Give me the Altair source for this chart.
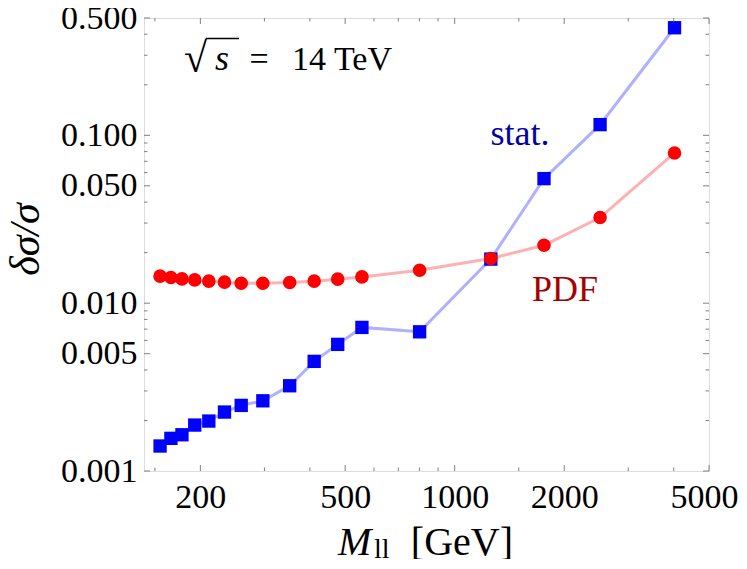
import altair as alt
import pandas as pd

# ---------------- data ----------------
mass = [155, 166, 178, 193, 211, 233, 259, 297, 352, 411, 477, 556, 801, 1257, 1760, 2510, 4020]
pdf_err = [0.01448, 0.01422, 0.01395, 0.01376, 0.01352, 0.01334, 0.01315, 0.01315, 0.01328,
           0.01352, 0.0139, 0.01434, 0.01571, 0.01845, 0.02214, 0.03237, 0.0785]
stat_err = [0.001409, 0.001565, 0.001644, 0.001878, 0.001984, 0.002245, 0.00246, 0.00262,
            0.00322, 0.0045, 0.00568, 0.00717, 0.00675, 0.0183, 0.0552, 0.1158, 0.4375]

x_major = [200, 500, 1000, 2000, 5000]
x_minor = [150, 300, 400, 600, 700, 800, 900, 1500, 3000, 4000]
y_major = [0.001, 0.005, 0.01, 0.05, 0.1, 0.5]
y_minor = [0.002, 0.003, 0.004, 0.006, 0.007, 0.008, 0.009, 0.02, 0.03, 0.04,
           0.06, 0.07, 0.08, 0.09, 0.2, 0.3, 0.4]

label_stat = "stat."
label_pdf = "PDF"
label_energy = "14 TeV"
y_title = "δσ/σ"

# ---------------- style ----------------
FONT = "Liberation Serif"
FRAME = "#808080"
W, H = 565, 453

xscale = alt.Scale(type="log", domain=[140, 5000], nice=False)
yscale = alt.Scale(type="log", domain=[0.001, 0.5], nice=False)

df = pd.DataFrame({"M": mass, "pdf": pdf_err, "stat": stat_err})

x_axis = alt.Axis(values=x_major, format="d", labelFont=FONT, labelFontSize=34,
                  labelColor="black", ticks=False, domain=False, grid=False,
                  labelPadding=9, title="", labelOverlap=False, labelFlush=False,
                  labelBound=False,
                  labelOffset={"condition": {"test": "datum.value == 5000", "value": -5},
                               "value": 0})
y_axis = alt.Axis(values=y_major, format=".3f", labelFont=FONT, labelFontSize=34,
                  labelColor="black", ticks=False, domain=False, grid=False,
                  labelPadding=7, title=y_title, titleFont=FONT, titleFontSize=42,
                  titleFontStyle="italic", titleFontWeight="normal", titleColor="black",
                  titleAngle=-90, titleX=-119, titleY=221, titleAlign="center",
                  titleBaseline="middle", labelOverlap=False, labelFlush=False,
                  labelBound=False)


def X(field):
    return alt.X(field, scale=xscale, axis=x_axis)


def Y(field):
    return alt.Y(field, scale=yscale, axis=y_axis)


base = alt.Chart(df)

stat_line = base.mark_line(color="#b0b0ff", strokeWidth=3).encode(x=X("M:Q"), y=Y("stat:Q"))
stat_pts = base.mark_square(color="#0000ff", size=178, opacity=1).encode(x=X("M:Q"), y=Y("stat:Q"))
pdf_line = base.mark_line(color="#ffb0b0", strokeWidth=3).encode(x=X("M:Q"), y=Y("pdf:Q"))
pdf_pts = base.mark_circle(color="#ff0000", size=185, opacity=1).encode(x=X("M:Q"), y=Y("pdf:Q"))


# inward ticks on all four sides
def xticks(vals, length):
    d = alt.Chart(pd.DataFrame({"v": vals}))
    bottom = d.mark_rule(color=FRAME, strokeWidth=1).encode(
        x=X("v:Q"), y=alt.value(H), y2=alt.value(H - length))
    top = d.mark_rule(color=FRAME, strokeWidth=1).encode(
        x=X("v:Q"), y=alt.value(0), y2=alt.value(length))
    return [bottom, top]


def yticks(vals, length):
    d = alt.Chart(pd.DataFrame({"v": vals}))
    left = d.mark_rule(color=FRAME, strokeWidth=1).encode(
        y=Y("v:Q"), x=alt.value(0), x2=alt.value(length))
    right = d.mark_rule(color=FRAME, strokeWidth=1).encode(
        y=Y("v:Q"), x=alt.value(W), x2=alt.value(W - length))
    return [left, right]


ticks = xticks(x_major, 6) + xticks(x_minor, 3.5) + yticks(y_major, 6) + yticks(y_minor, 3.5)


def txt(s, x, y, size, color="black", style="normal", align="left"):
    return alt.Chart(pd.DataFrame({"t": [s]})).mark_text(
        font=FONT, fontSize=size, color=color, fontStyle=style, align=align,
        baseline="alphabetic").encode(x=alt.value(x), y=alt.value(y), text="t:N")


annots = [
    txt(label_stat, 376, 127, 36, color="#0000a8", align="center"),
    txt(label_pdf, 421, 283, 36, color="#a80000", align="center"),
    txt("√", 40, 54, 42),
    txt("s", 71, 52, 36, style="italic"),
    txt("=", 115, 52, 34, align="center"),
    txt(label_energy, 248, 52, 34, align="right"),
    txt("M", 194, 537, 40, style="italic"),
    txt("ll", 230, 540, 28),
    txt("[GeV]", 369, 537, 40, align="right"),
]
vinculum = alt.Chart(pd.DataFrame({"t": [0]})).mark_rule(color="black", strokeWidth=1.5).encode(
    x=alt.value(62), x2=alt.value(95), y=alt.value(20.5))

chart = alt.layer(
    stat_line, pdf_line, stat_pts, pdf_pts, *ticks, *annots, vinculum
).properties(
    width=W, height=H,
    autosize=alt.AutoSizeParams(type="none"),
    padding={"left": 136, "top": 10, "right": 30, "bottom": 88},
).configure_view(stroke=FRAME, strokeWidth=1).configure(background="white")

chart.save("out.html", embed_options={"renderer": "svg", "actions": False})
